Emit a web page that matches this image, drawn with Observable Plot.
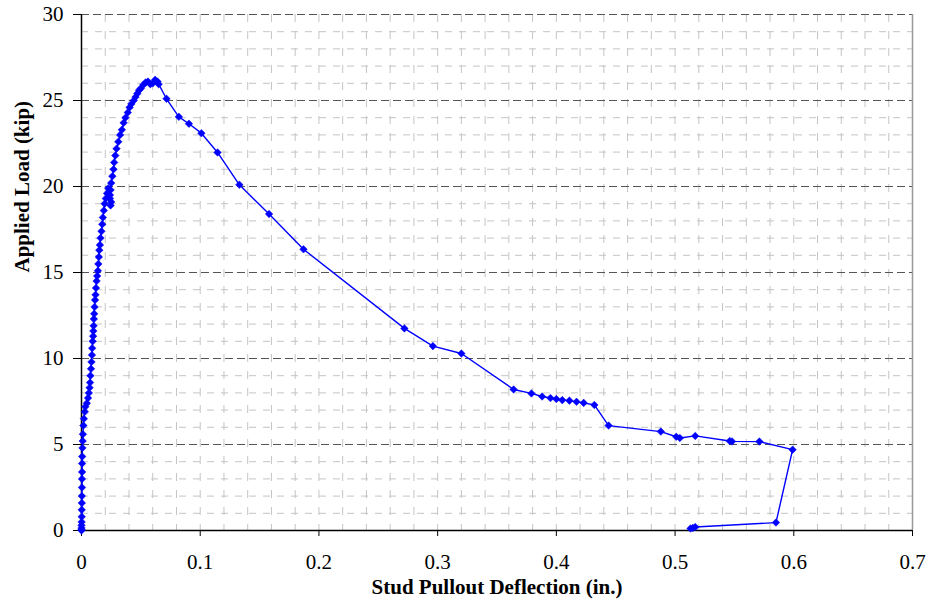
<!DOCTYPE html>
<html>
<head>
<meta charset="utf-8">
<script src="https://cdn.jsdelivr.net/npm/d3@7"></script>
<script src="https://cdn.jsdelivr.net/npm/@observablehq/plot@0.6"></script>
<style>
  html, body { margin: 0; padding: 0; background: #fff; }
  #chart svg { display: block; }
</style>
</head>
<body>
<div id="chart"></div>
<script>
const xTitle = "Stud Pullout Deflection (in.)";
const yTitle = "Applied Load (kip)";
const xTicks = [0, 0.1, 0.2, 0.3, 0.4, 0.5, 0.6, 0.7];
const xTickLabels = ["0", "0.1", "0.2", "0.3", "0.4", "0.5", "0.6", "0.7"];
const yTicks = [0, 5, 10, 15, 20, 25, 30];

const deflection = [
  0, 0, 0, 0, 0.0001, 0.0002, 0.0002, 0.0003, 0.0003, 0.0004, 0.0004, 0.0005, 0.0005, 0.0006, 0.0008,
  0.001, 0.0012, 0.0016, 0.002, 0.0028, 0.0032, 0.0045, 0.0055, 0.0062, 0.0068, 0.0072, 0.0075, 0.008,
  0.0084, 0.0088, 0.009, 0.0094, 0.0098, 0.0100, 0.0102, 0.0104, 0.0107, 0.011, 0.0114, 0.0118, 0.0122,
  0.0127, 0.0132, 0.0138, 0.0142, 0.0146, 0.015, 0.0155, 0.016, 0.0168, 0.0175, 0.018, 0.0188, 0.0195,
  0.0205, 0.0215, 0.0225, 0.024, 0.025, 0.0245, 0.024, 0.0245, 0.025, 0.026, 0.027, 0.0275, 0.0285,
  0.0295, 0.031, 0.0325, 0.034, 0.0355, 0.037, 0.039, 0.0405, 0.042, 0.044, 0.0455, 0.047, 0.0485,
  0.050, 0.052, 0.054, 0.056, 0.058, 0.060, 0.062, 0.064, 0.065,
  0.0716, 0.082, 0.0905, 0.101, 0.1146, 0.133, 0.158, 0.187, 0.272, 0.296, 0.320, 0.364, 0.379, 0.388,
  0.395, 0.400, 0.405, 0.411, 0.417, 0.423, 0.432, 0.444, 0.488, 0.501, 0.504, 0.517, 0.546, 0.548,
  0.571, 0.599, 0.585, 0.517, 0.515, 0.513
];
const load = [
  0, 0.05, 0.15, 0.3, 0.5, 0.8, 1.2, 1.6, 2.0, 2.5, 3.0, 3.4, 3.9, 4.3, 4.8,
  5.2, 5.6, 6.1, 6.5, 6.9, 7.2, 7.4, 7.7, 8.0, 8.3, 8.6, 9.0, 9.4,
  9.8, 10.2, 10.6, 11.0, 11.3, 11.6, 11.9, 12.3, 12.6, 13.0, 13.4, 13.7, 14.1,
  14.5, 14.8, 15.1, 15.5, 15.9, 16.3, 16.6, 17.0, 17.4, 17.8, 18.2, 18.6, 19.0,
  19.3, 19.6, 19.9, 19.5, 19.1, 18.9, 19.3, 19.8, 20.2, 20.6, 21.0, 21.4, 21.8,
  22.2, 22.6, 23.0, 23.3, 23.7, 24.0, 24.3, 24.6, 24.8, 25.0, 25.2, 25.4, 25.6,
  25.7, 25.9, 26.05, 26.1, 25.95, 26.0, 26.2, 26.1, 25.95,
  25.1, 24.05, 23.65, 23.1, 21.98, 20.1, 18.4, 16.35, 11.75, 10.72, 10.29, 8.2, 7.97, 7.79,
  7.7, 7.64, 7.58, 7.55, 7.48, 7.42, 7.3, 6.1, 5.75, 5.45, 5.38, 5.5, 5.2, 5.18,
  5.17, 4.7, 0.46, 0.2, 0.15, 0.12
];

const data = deflection.map((d, i) => ({x: d, y: load[i]}));
const minorY = d3.range(1, 30).filter(v => v % 5 !== 0);
const majorY = yTicks.filter(v => v > 0);
const minorX = d3.range(1, 35).map(i => i * 0.02);

const font = "'Liberation Serif', 'Times New Roman', serif";

const chart = Plot.plot({
  width: 930,
  height: 613,
  marginLeft: 81,
  marginRight: 18,
  marginTop: 14,
  marginBottom: 83,
  style: {fontFamily: font, fontSize: "21px", color: "#000", background: "#fff"},
  x: {domain: [0, 0.7]},
  y: {domain: [0, 30]},
  marks: [
    Plot.ruleY(minorY, {stroke: "#c4c4c4", strokeWidth: 1, strokeDasharray: "7,7"}),
    Plot.ruleX(minorX, {stroke: "#c4c4c4", strokeWidth: 1, strokeDasharray: "8,9"}),
    Plot.ruleY(majorY, {stroke: "#555", strokeWidth: 1, strokeDasharray: "8,4"}),
    Plot.ruleX([0.7], {stroke: "#999", strokeWidth: 1.5}),
    Plot.axisX({ticks: xTicks, tickFormat: (d, i) => xTickLabels[i], tickSize: 6, tickPadding: 18, label: null, fontSize: 21}),
    Plot.axisY({ticks: yTicks, tickSize: 8, tickPadding: 10, label: null, fontSize: 21}),
    Plot.ruleX([0], {stroke: "#000", strokeWidth: 1.5}),
    Plot.ruleY([0], {stroke: "#000", strokeWidth: 1.5}),
    Plot.line(data, {x: "x", y: "y", stroke: "#0000ff", strokeWidth: 1.4}),
    Plot.dot(data, {x: "x", y: "y", symbol: "diamond2", r: 3.4, fill: "#0000ff", stroke: "#0000ff", strokeWidth: 0.5}),
    Plot.text([xTitle], {frameAnchor: "bottom", dy: 63, text: d => d, fontWeight: "bold", fontSize: 21}),
    Plot.text([yTitle], {frameAnchor: "left", dx: -59, rotate: -90, text: d => d, fontWeight: "bold", fontSize: 21})
  ]
});
document.getElementById("chart").appendChild(chart);
</script>
</body>
</html>
